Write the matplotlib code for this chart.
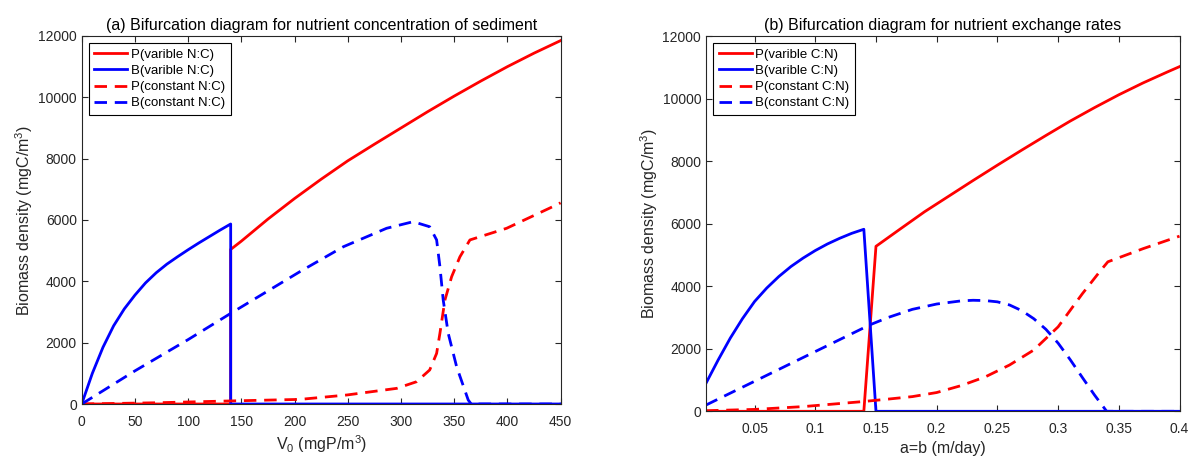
import matplotlib
matplotlib.use("Agg")
import matplotlib.pyplot as plt

# Fonts: MATLAB-like look with Arial metrics
plt.rcParams['font.family'] = ['Liberation Sans', 'DejaVu Sans']
plt.rcParams['mathtext.fontset'] = 'custom'
plt.rcParams['mathtext.rm'] = 'Liberation Sans'
plt.rcParams['mathtext.it'] = 'Liberation Sans:italic'
plt.rcParams['font.size'] = 10

RED = '#ff0000'
BLUE = '#0000ff'
AX_COLOR = '#262626'

# ---- panel (a): nutrient concentration of sediment V0 ----
a_pv_x = [0, 140, 140, 150, 175, 200, 225, 250, 275, 300, 325, 350, 375, 400, 425, 450]
a_pv_y = [0, 0, 5040, 5310, 6030, 6700, 7330, 7930, 8470, 9000, 9530, 10040,
          10530, 11000, 11440, 11850]

a_bv_x = [0, 10, 20, 30, 40, 50, 60, 70, 80, 90, 100, 110, 120, 130, 140, 140, 450]
a_bv_y = [0, 1000, 1850, 2550, 3100, 3550, 3950, 4280, 4560, 4800, 5030, 5250,
          5460, 5670, 5870, 0, 0]

a_pc_x = [0, 70, 140, 205, 249, 296, 314.7, 327, 333.5, 336.6, 341.3, 347.6,
          355.4, 364.8, 399.3, 446, 450]
a_pc_y = [0, 40, 100, 150, 293, 510, 727, 1110, 1650, 2305, 3390, 4150,
          4800, 5350, 5730, 6490, 6560]

a_bc_x = [0, 50, 100, 140, 205, 246, 286.5, 311.5, 327, 333.5, 336.6, 339.7,
          344.4, 352.3, 363.2, 366, 450]
a_bc_y = [0, 1080, 2100, 2955, 4315, 5130, 5730, 5945, 5780, 5350, 4480, 3390,
          2305, 1215, 130, 0, 0]

# ---- panel (b): nutrient exchange rates a=b ----
b_pv_x = [0.01, 0.14, 0.15, 0.17, 0.19, 0.21, 0.23, 0.25, 0.27, 0.29, 0.31,
          0.33, 0.35, 0.37, 0.39, 0.4]
b_pv_y = [0, 0, 5275, 5830, 6380, 6880, 7380, 7870, 8350, 8820, 9280,
          9710, 10120, 10500, 10850, 11020]

b_bv_x = [0.01, 0.02, 0.03, 0.04, 0.05, 0.06, 0.07, 0.08, 0.09, 0.10, 0.11,
          0.12, 0.13, 0.14, 0.15, 0.4]
b_bv_y = [897, 1640, 2340, 2960, 3510, 3940, 4310, 4630, 4900, 5140, 5350,
          5530, 5690, 5820, 0, 0]

b_pc_x = [0.01, 0.05, 0.09, 0.139, 0.16, 0.18, 0.20, 0.22, 0.24, 0.26, 0.28,
          0.30, 0.32, 0.335, 0.341, 0.37, 0.4]
b_pc_y = [20, 60, 150, 310, 390, 470, 600, 820, 1100, 1480, 1960,
          2700, 3760, 4500, 4780, 5200, 5600]

b_bc_x = [0.01, 0.145, 0.16, 0.18, 0.20, 0.22, 0.23, 0.24, 0.25, 0.26, 0.27,
          0.28, 0.29, 0.30, 0.31, 0.32, 0.33, 0.34, 0.4]
b_bc_y = [200, 2765, 3000, 3260, 3430, 3530, 3550, 3540, 3500, 3400, 3220,
          2960, 2620, 2180, 1650, 1080, 520, 0, 0]

a_labels = ['P(varible N:C)', 'B(varible N:C)', 'P(constant N:C)', 'B(constant N:C)']
b_labels = ['P(varible C:N)', 'B(varible C:N)', 'P(constant C:N)', 'B(constant C:N)']

a_xticks = [0, 50, 100, 150, 200, 250, 300, 350, 400, 450]
b_xticks = [0.05, 0.1, 0.15, 0.2, 0.25, 0.3, 0.35, 0.4]
b_xticklabels = ['0.05', '0.1', '0.15', '0.2', '0.25', '0.3', '0.35', '0.4']
yticks = [0, 2000, 4000, 6000, 8000, 10000, 12000]

W, H = 1193, 457
fig = plt.figure(figsize=(W / 100, H / 100), dpi=100)
ax1 = fig.add_axes([81.7 / W, (H - 404) / H, (560.6 - 81.7) / W, (404 - 36) / H])
ax2 = fig.add_axes([706 / W, (H - 411.3) / H, (1179.5 - 706) / W, (411.3 - 36) / H])

DASH = (4.5, 2.8)
LW = 2
LABEL_FS = 11.5


def draw(ax, series, labels):
    styles = [(RED, '-'), (BLUE, '-'), (RED, '--'), (BLUE, '--')]
    for (x, y), (c, ls), lab in zip(series, styles, labels):
        line, = ax.plot(x, y, color=c, lw=LW, label=lab)
        if ls == '--':
            line.set_dashes(DASH)
    leg = ax.legend(loc='upper left', fontsize=9.5, frameon=True, fancybox=False,
                    edgecolor='black', framealpha=1, handlelength=2.5,
                    handletextpad=0.3, borderpad=0.4, labelspacing=0.3,
                    borderaxespad=0.55)
    leg.get_frame().set_linewidth(0.8)
    ax.set_ylim(0, 12000)
    ax.set_yticks(yticks)
    ax.tick_params(direction='in', top=True, right=True, length=4,
                   colors=AX_COLOR, labelcolor=AX_COLOR, labelsize=10)
    ax.tick_params(axis='x', pad=8)
    for s in ax.spines.values():
        s.set_color(AX_COLOR)
        s.set_linewidth(0.8)
    ax.set_ylabel('Biomass density (mgC/m$^3$)', color=AX_COLOR,
                  fontsize=LABEL_FS, labelpad=2)


draw(ax1, [(a_pv_x, a_pv_y), (a_bv_x, a_bv_y), (a_pc_x, a_pc_y), (a_bc_x, a_bc_y)], a_labels)
ax1.set_xlim(0, 450)
ax1.set_xticks(a_xticks)
ax1.set_xlabel('V$_0$ (mgP/m$^3$)', color=AX_COLOR, fontsize=LABEL_FS, labelpad=3)
ax1.set_title('(a) Bifurcation diagram for nutrient concentration of sediment',
              fontsize=LABEL_FS, pad=4)

draw(ax2, [(b_pv_x, b_pv_y), (b_bv_x, b_bv_y), (b_pc_x, b_pc_y), (b_bc_x, b_bc_y)], b_labels)
ax2.set_xlim(0.01, 0.4)
ax2.set_xticks(b_xticks)
ax2.set_xticklabels(b_xticklabels)
ax2.set_xlabel('a=b (m/day)', color=AX_COLOR, fontsize=LABEL_FS, labelpad=3)
ax2.set_title('(b) Bifurcation diagram for nutrient exchange rates',
              fontsize=LABEL_FS, pad=4)

fig.savefig('out.png', dpi=100)
